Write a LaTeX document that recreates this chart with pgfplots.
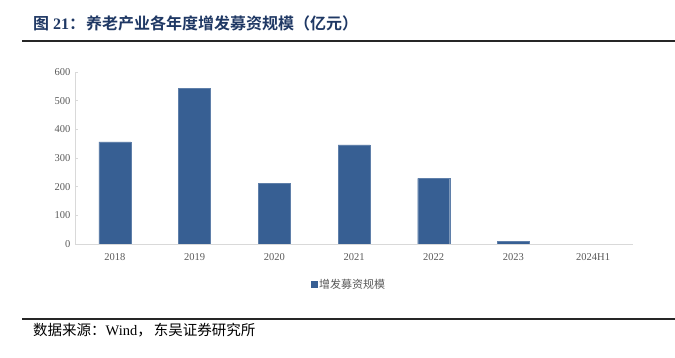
\documentclass[border=0pt]{standalone}
\usepackage{fontspec}
\setmainfont{Liberation Serif}
\newfontfamily\cjk{Noto Sans CJK SC}
\newfontfamily\cjkb{Noto Sans CJK SC Bold}
\usepackage{pgfplots}
\pgfplotsset{compat=1.18}
\definecolor{barblue}{HTML}{375F93}
\definecolor{titleblue}{HTML}{1F3864}
\definecolor{ticktext}{HTML}{595959}
\definecolor{axgray}{HTML}{D9D9D9}
\begin{document}
\begin{tikzpicture}[x=1pt,y=1pt]
\path[use as bounding box] (0,0) rectangle (675,358);
\node[anchor=base west,inner sep=0pt,text=titleblue,font=\fontsize{16}{18}\selectfont] at (33,328) {{\cjkb 图}\hspace{4pt}{\bfseries 21}{\cjkb ：}\hspace{1pt}{\cjkb 养老产业各年度增发募资规模（亿元）}};
\draw[line width=1.2pt,black!85] (22,317) -- (675,317);
\draw[line width=1.2pt,black!85] (22,39) -- (675,39);
\node[anchor=base west,inner sep=0pt,font=\fontsize{14.5}{16}\selectfont] at (33,22) {{\cjk 数据来源：}Wind{\cjk ，\hspace{2pt}东吴证券研究所}};
\begin{axis}[
  at={(75pt,114pt)}, anchor=south west,
  scale only axis, width=558pt, height=172pt,
  xmin=-0.5, xmax=6.5, ymin=0, ymax=600,
  ytick={0,100,...,600},
  xtick={0,...,6},
  xticklabels={2018,2019,2020,2021,2022,2023,2024H1},
  axis x line*=bottom, axis y line*=left,
  axis line style={axgray, line width=0.8pt},
  tick style={axgray, line width=0.6pt},
  major tick length=3pt,
  xtick style={draw=none},
  ytick pos=left,
  ticklabel style={text=ticktext, font=\fontsize{10.5}{12}\selectfont},
  /pgf/number format/assume math mode=true,
  yticklabel style={xshift=-1pt},
  xticklabel style={yshift=-3pt},
  ybar, bar width=32pt,
  legend style={draw=none, at={(0.491,-0.235)}, anchor=center, font=\fontsize{11}{12}\selectfont\cjk, text=ticktext},
  legend image code/.code={\fill[barblue] (0pt,-3pt) rectangle (6pt,3pt);},
]
\addplot[fill=barblue, draw=barblue!80!white] coordinates {(0,356) (1,543) (2,212) (3,346) (4,229) (5,10)};
\addlegendentry{增发募资规模}
\end{axis}
\end{tikzpicture}
\end{document}
